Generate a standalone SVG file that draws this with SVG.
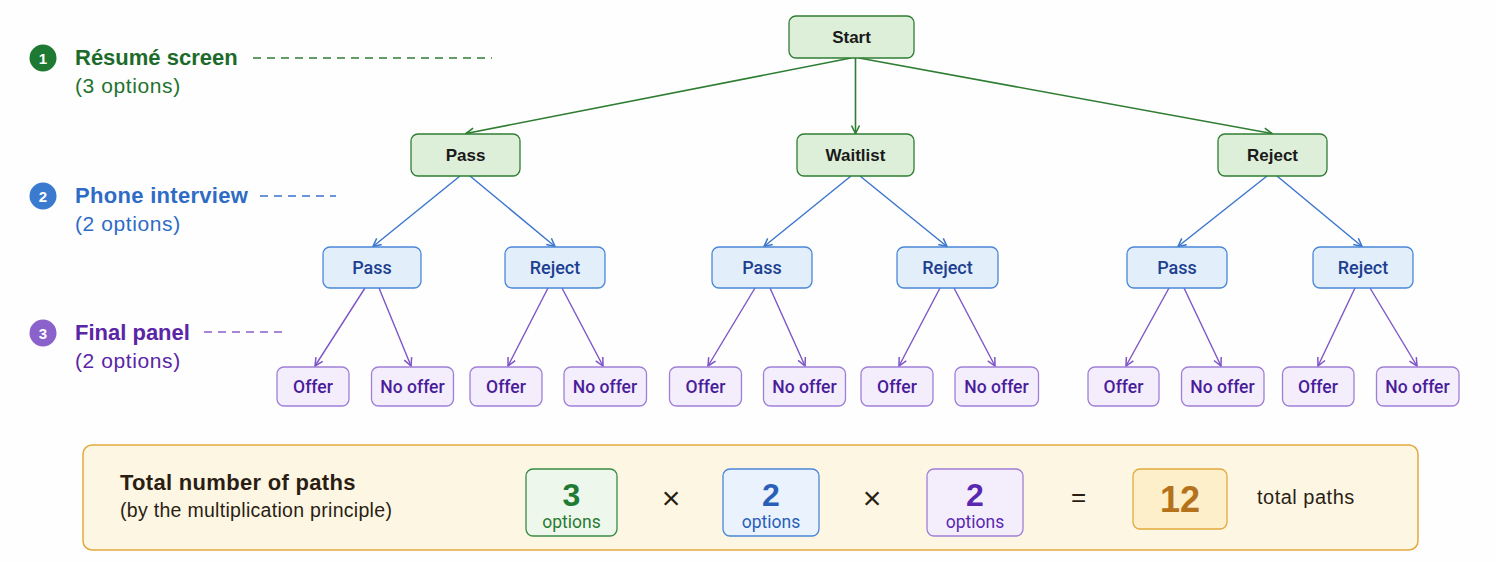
<svg xmlns="http://www.w3.org/2000/svg" width="1496" height="562" viewBox="0 0 1496 562">
<defs>
<marker id="ag" viewBox="0 0 10 10" refX="9" refY="5" markerWidth="10" markerHeight="10" markerUnits="userSpaceOnUse" orient="auto"><path d="M1,1 L9,5 L1,9" fill="none" stroke="#2e7d32" stroke-width="1.6"/></marker>
<marker id="ab" viewBox="0 0 10 10" refX="9" refY="5" markerWidth="10" markerHeight="10" markerUnits="userSpaceOnUse" orient="auto"><path d="M1,1 L9,5 L1,9" fill="none" stroke="#3a74cc" stroke-width="1.5"/></marker>
<marker id="ap" viewBox="0 0 10 10" refX="9" refY="5" markerWidth="10" markerHeight="10" markerUnits="userSpaceOnUse" orient="auto"><path d="M1,1 L9,5 L1,9" fill="none" stroke="#7d55c7" stroke-width="1.5"/></marker>
</defs>
<style>
text{font-family:"Liberation Sans",Arial,sans-serif}
.g rect{fill:#ddefd9;stroke:#2e7d32;stroke-width:1.3}
.g text{font-size:17px;font-weight:700;fill:#1a1a1a;text-anchor:middle;dominant-baseline:central}
.b rect{fill:#e3eefb;stroke:#4a87d6;stroke-width:1.3}
.b text{font-family:Roboto,"Liberation Sans",sans-serif;font-size:18px;font-weight:500;fill:#1d3f8f;text-anchor:middle;dominant-baseline:central}
.p rect{fill:#f3edfc;stroke:#a07fd8;stroke-width:1.3}
.p text{font-family:Roboto,"Liberation Sans",sans-serif;font-size:17.5px;font-weight:500;fill:#4a1d9a;text-anchor:middle;dominant-baseline:central}
.cg{stroke:#2e7d32;stroke-width:1.6;fill:none;marker-end:url(#ag)}
.cb{stroke:#3a74cc;stroke-width:1.4;fill:none;marker-end:url(#ab)}
.cp{stroke:#7d55c7;stroke-width:1.4;fill:none;marker-end:url(#ap)}
.num{font-size:15px;font-weight:700;fill:#fff;text-anchor:middle;dominant-baseline:central}
.h{font-size:22px;font-weight:700}
.s{font-size:21px;letter-spacing:0.6px}
.dash{stroke-width:1.5;stroke-dasharray:8 6;fill:none}
.op{font-family:Roboto,"Liberation Sans",sans-serif;font-size:17.5px;text-anchor:middle}
.big{font-size:32px;font-weight:700;text-anchor:middle}
.sym{fill:#2a1e14;text-anchor:middle;dominant-baseline:central}
</style>
<rect width="1496" height="562" fill="#fefefe"/>

<g id="legend">
<g id="legend-1">
<circle cx="43" cy="58" r="13.5" fill="#1e7a32"/>
<text x="43" y="58" class="num">1</text>
<text x="75" y="65" class="h" fill="#1d6b2b">Résumé screen</text>
<text x="75" y="93" class="s" fill="#237230">(3 options)</text>
<line x1="253" y1="58" x2="492" y2="58" class="dash" stroke="#2e7d32"/>
</g>
<g id="legend-2">
<circle cx="43" cy="196" r="13.5" fill="#3a7bd0"/>
<text x="43" y="196" class="num">2</text>
<text x="75" y="203" class="h" fill="#2e6cc5" letter-spacing="0.3">Phone interview</text>
<text x="75" y="231" class="s" fill="#2e6cc5">(2 options)</text>
<line x1="260" y1="196" x2="336" y2="196" class="dash" stroke="#3a74cc"/>
</g>
<g id="legend-3">
<circle cx="43" cy="333" r="13.5" fill="#8b62cb"/>
<text x="43" y="333" class="num">3</text>
<text x="75" y="340" class="h" fill="#5a25a6">Final panel</text>
<text x="75" y="368" class="s" fill="#5a25a6">(2 options)</text>
<line x1="204" y1="332" x2="286" y2="332" class="dash" stroke="#8b62cb"/>
</g>
</g>

<g id="connectors">
<line class="cg" x1="851" y1="58" x2="466" y2="133.5"/>
<line class="cg" x1="855.5" y1="58" x2="855.5" y2="133.5"/>
<line class="cg" x1="859" y1="58" x2="1272" y2="133.5"/>

<line class="cb" x1="460" y1="176" x2="373" y2="246.5"/>
<line class="cb" x1="470" y1="176" x2="555" y2="246.5"/>
<line class="cb" x1="851" y1="176" x2="764" y2="246.5"/>
<line class="cb" x1="860" y1="176" x2="947" y2="246.5"/>
<line class="cb" x1="1267" y1="176" x2="1178" y2="246.5"/>
<line class="cb" x1="1277" y1="176" x2="1362" y2="246.5"/>

<line class="cp" x1="365" y1="288" x2="315" y2="366"/>
<line class="cp" x1="379" y1="288" x2="411" y2="366"/>
<line class="cp" x1="548" y1="288" x2="508" y2="366"/>
<line class="cp" x1="562" y1="288" x2="603" y2="366"/>
<line class="cp" x1="755" y1="288" x2="708" y2="366"/>
<line class="cp" x1="770" y1="288" x2="805" y2="366"/>
<line class="cp" x1="940" y1="288" x2="899" y2="366"/>
<line class="cp" x1="954" y1="288" x2="995" y2="366"/>
<line class="cp" x1="1169" y1="288" x2="1126" y2="366"/>
<line class="cp" x1="1184" y1="288" x2="1221" y2="366"/>
<line class="cp" x1="1355" y1="288" x2="1318" y2="366"/>
<line class="cp" x1="1370" y1="288" x2="1417" y2="366"/>
</g>

<g id="n-start" class="g"><rect x="789" y="16" width="125" height="42" rx="7"/><text x="851.5" y="37">Start</text></g>
<g id="n-pass" class="g"><rect x="411" y="134" width="109" height="42" rx="7"/><text x="465.5" y="155">Pass</text></g>
<g id="n-waitlist" class="g"><rect x="797" y="134" width="117" height="42" rx="7"/><text x="855.5" y="155">Waitlist</text></g>
<g id="n-reject" class="g"><rect x="1218" y="134" width="109" height="42" rx="7"/><text x="1272.5" y="155">Reject</text></g>

<g id="n-pass-pass" class="b"><rect x="323" y="247" width="98" height="41" rx="7"/><text x="372" y="267.5">Pass</text></g>
<g id="n-pass-reject" class="b"><rect x="505" y="247" width="100" height="41" rx="7"/><text x="555" y="267.5">Reject</text></g>
<g id="n-wait-pass" class="b"><rect x="712" y="247" width="100" height="41" rx="7"/><text x="762" y="267.5">Pass</text></g>
<g id="n-wait-reject" class="b"><rect x="897" y="247" width="101" height="41" rx="7"/><text x="947.5" y="267.5">Reject</text></g>
<g id="n-rej-pass" class="b"><rect x="1127" y="247" width="100" height="41" rx="7"/><text x="1177" y="267.5">Pass</text></g>
<g id="n-rej-reject" class="b"><rect x="1313" y="247" width="100" height="41" rx="7"/><text x="1363" y="267.5">Reject</text></g>

<g id="n-pp-offer" class="p"><rect x="277" y="367" width="72" height="39" rx="7"/><text x="313" y="386.5">Offer</text></g>
<g id="n-pp-nooffer" class="p"><rect x="371.5" y="367" width="82" height="39" rx="7"/><text x="412.5" y="386.5">No offer</text></g>
<g id="n-pr-offer" class="p"><rect x="470" y="367" width="72" height="39" rx="7"/><text x="506" y="386.5">Offer</text></g>
<g id="n-pr-nooffer" class="p"><rect x="564" y="367" width="82.5" height="39" rx="7"/><text x="605" y="386.5">No offer</text></g>
<g id="n-wp-offer" class="p"><rect x="669.5" y="367" width="72" height="39" rx="7"/><text x="705.5" y="386.5">Offer</text></g>
<g id="n-wp-nooffer" class="p"><rect x="763.5" y="367" width="82" height="39" rx="7"/><text x="804.5" y="386.5">No offer</text></g>
<g id="n-wr-offer" class="p"><rect x="861" y="367" width="72" height="39" rx="7"/><text x="897" y="386.5">Offer</text></g>
<g id="n-wr-nooffer" class="p"><rect x="955" y="367" width="83.5" height="39" rx="7"/><text x="996.5" y="386.5">No offer</text></g>
<g id="n-rp-offer" class="p"><rect x="1088" y="367" width="71" height="39" rx="7"/><text x="1123.5" y="386.5">Offer</text></g>
<g id="n-rp-nooffer" class="p"><rect x="1181.5" y="367" width="82.5" height="39" rx="7"/><text x="1222.5" y="386.5">No offer</text></g>
<g id="n-rr-offer" class="p"><rect x="1282.5" y="367" width="71.5" height="39" rx="7"/><text x="1318" y="386.5">Offer</text></g>
<g id="n-rr-nooffer" class="p"><rect x="1376.5" y="367" width="82.5" height="39" rx="7"/><text x="1417.5" y="386.5">No offer</text></g>

<g id="summary">
<rect x="83" y="445" width="1335" height="105" rx="9" fill="#fdf6e3" stroke="#e2aa3e" stroke-width="1.5"/>
<text x="120" y="490" font-size="22" font-weight="700" fill="#2a1e14" letter-spacing="0.3">Total number of paths</text>
<text x="120" y="517" font-size="19.5" fill="#2a1e14" letter-spacing="0.3">(by the multiplication principle)</text>

<rect x="526" y="469" width="91" height="67" rx="7" fill="#eef7ec" stroke="#3a8a44" stroke-width="1.3"/>
<text x="571.5" y="506" class="big" fill="#1f7a33">3</text>
<text x="571.5" y="528" class="op" fill="#2a7a34">options</text>

<text x="671" y="498" font-size="32" class="sym">×</text>

<rect x="723" y="469" width="96" height="67" rx="7" fill="#eaf2fd" stroke="#4a87d6" stroke-width="1.3"/>
<text x="771" y="506" class="big" fill="#2a5fb8">2</text>
<text x="771" y="528" class="op" fill="#2a5fb8">options</text>

<text x="872" y="498" font-size="32" class="sym">×</text>

<rect x="927" y="469" width="96" height="67" rx="7" fill="#f4eefc" stroke="#a07fd8" stroke-width="1.3"/>
<text x="975" y="506" class="big" fill="#5a28b0">2</text>
<text x="975" y="528" class="op" fill="#5a28b0">options</text>

<text x="1078.5" y="497" font-size="26" class="sym">=</text>

<rect x="1133" y="469" width="94" height="60" rx="7" fill="#fcefc9" stroke="#e2aa3e" stroke-width="1.3"/>
<text x="1180" y="512" font-size="36" font-weight="700" fill="#b5721a" text-anchor="middle">12</text>

<text x="1257" y="504" font-size="20" fill="#2a1e14" letter-spacing="0.5">total paths</text>
</g>
</svg>
